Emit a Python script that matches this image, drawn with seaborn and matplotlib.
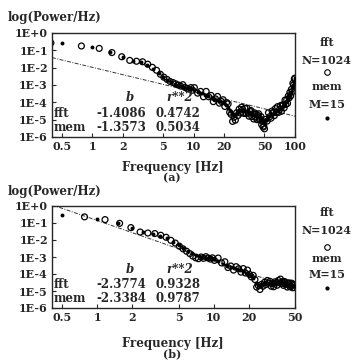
import numpy as np
import matplotlib
matplotlib.use("Agg")
import matplotlib.pyplot as plt
import seaborn as sns
from matplotlib.lines import Line2D
from matplotlib.ticker import FixedLocator, NullLocator

# fft bins (Hz), shared grid for both panels
fft_freq = [0.39, 0.78, 1.17, 1.56, 1.95, 2.34, 2.73, 3.13, 3.52, 3.91,
            4.30, 4.69, 5.08, 5.47, 5.86, 6.25, 6.64, 7.03, 7.42, 7.81,
            8.20, 8.59, 8.98, 9.38, 9.77,
            10.16, 10.94, 11.72, 12.50, 13.28, 14.06, 14.84, 15.63, 16.41, 17.19,
            17.97, 18.75, 19.53, 20.31, 21.09, 21.88, 22.66, 23.44, 24.22, 25.00,
            25.78, 26.56, 27.34, 28.13, 28.91, 29.69, 30.47, 31.25, 32.03, 32.81,
            33.59, 34.38, 35.16, 35.94, 36.72, 37.50, 38.28, 39.06, 39.84, 40.63,
            41.41, 42.19, 42.97, 43.75, 44.53, 45.31, 46.09, 46.88, 47.66, 48.44,
            49.22, 50.00,
            51.56, 53.13, 54.69, 56.25, 57.81, 59.38, 60.94, 62.50, 64.06, 65.63,
            67.19, 68.75, 70.31, 71.88, 73.44, 75.00, 76.56, 78.13, 79.69, 81.25,
            82.81, 84.38, 85.94, 87.50, 89.06, 90.63, 92.19, 93.75, 95.31, 96.88,
            98.44, 100.00]

# mem evaluation frequencies (Hz)
mem_freq = [0.5, 1.0, 1.5, 2.0, 2.5, 3.0, 3.5, 4.0, 4.5, 5.0,
            5.5, 6.0, 6.5, 7.0, 7.5, 8.0, 8.5, 9.0, 9.5, 10.0,
            11, 12, 13, 14, 15, 16, 17, 18, 19, 20,
            21, 22, 23, 24, 25, 26, 27, 28, 29, 30,
            31, 32, 33, 34, 35, 36, 37, 38, 39, 40,
            41, 42, 43, 44, 45, 46, 47, 48, 49, 50,
            52, 54, 56, 58, 60, 62, 64, 66, 68, 70,
            72, 74, 76, 78, 80, 82, 84, 86, 88, 90,
            92, 94, 96, 98, 100]

# log10(Power/Hz), panel (a)
fft_a = [-0.57, -0.75, -0.89, -1.13, -1.37, -1.58, -1.63, -1.66, -1.80, -1.98,
         -2.15, -2.38, -2.55, -2.68, -2.80, -2.86, -2.93, -3.00, -3.06, -2.98,
         -3.14, -3.20, -3.24, -3.15, -3.30,
         -3.15, -3.47, -3.37, -3.68, -3.37, -3.68, -3.60, -3.96, -3.80, -3.66,
         -4.05, -3.95, -3.85, -4.24, -4.02, -4.09, -4.57, -4.70, -5.10, -4.86,
         -5.03, -4.60, -4.76, -4.39, -4.62, -4.28, -4.41, -4.64, -4.34, -4.63,
         -4.34, -4.63, -4.80, -4.52, -4.47, -4.82, -4.67, -4.96, -4.61, -4.84,
         -4.68, -5.00, -4.76, -4.66, -5.00, -4.95, -4.82, -5.28, -5.10, -5.43,
         -5.37, -5.53,
         -4.98, -5.08, -4.60, -4.83, -4.92, -4.50, -4.58, -4.77, -4.36, -4.60,
         -4.25, -4.58, -4.42, -4.19, -4.52, -4.15, -4.16, -4.32, -3.87, -4.12,
         -3.85, -4.06, -3.63, -3.75, -3.42, -3.63, -3.25, -3.40, -2.90, -3.00,
         -2.65, -2.60]

mem_a = [-0.57, -0.81, -1.10, -1.40, -1.60, -1.70, -1.85, -2.05, -2.30, -2.55,
         -2.70, -2.85, -2.95, -3.00, -3.05, -3.10, -3.15, -3.20, -3.25, -3.30,
         -3.38, -3.47, -3.55, -3.65, -3.75, -3.82, -3.87, -3.92, -3.97, -4.02,
         -4.15, -4.32, -4.52, -4.68, -4.75, -4.68, -4.55, -4.45, -4.42, -4.43,
         -4.46, -4.50, -4.53, -4.56, -4.59, -4.62, -4.65, -4.68, -4.71, -4.74,
         -4.77, -4.80, -4.83, -4.86, -4.90, -4.96, -5.05, -5.15, -5.20, -5.18,
         -5.00, -4.85, -4.76, -4.70, -4.65, -4.60, -4.55, -4.50, -4.45, -4.40,
         -4.34, -4.27, -4.20, -4.13, -4.05, -3.96, -3.87, -3.77, -3.66, -3.53,
         -3.38, -3.20, -3.00, -2.80, -2.62]

# log10(Power/Hz), panel (b), up to 50 Hz
fft_b = [-0.23, -0.64, -0.80, -1.02, -1.27, -1.53, -1.59, -1.62, -1.72, -1.84,
         -2.02, -2.18, -2.36, -2.52, -2.66, -2.80, -2.95, -3.05, -3.10, -3.00,
         -3.08, -2.98, -3.06, -3.12, -3.05,
         -3.20, -3.06, -3.35, -3.28, -3.62, -3.53, -3.77, -3.57, -3.69, -3.89,
         -3.68, -3.94, -3.77, -4.02, -4.17, -4.08, -4.33, -4.77, -4.68, -4.91,
         -4.61, -4.72, -4.49, -4.62, -4.38, -4.54, -4.43, -4.72, -4.56, -4.75,
         -4.46, -4.53, -4.66, -4.38, -4.52, -4.30, -4.56, -4.45, -4.67, -4.44,
         -4.61, -4.51, -4.77, -4.57, -4.52, -4.75, -4.71, -4.54, -4.81, -4.62,
         -4.80, -4.65]

mem_b = [-0.51, -0.76, -1.00, -1.30, -1.52, -1.62, -1.75, -1.90, -2.10, -2.30,
         -2.50, -2.65, -2.78, -2.88, -2.95, -3.00, -3.02, -3.05, -3.07, -3.10,
         -3.25, -3.40, -3.52, -3.60, -3.67, -3.72, -3.78, -3.85, -3.92, -4.00,
         -4.10, -4.25, -4.50, -4.65, -4.70, -4.60, -4.50, -4.47, -4.50, -4.55,
         -4.60, -4.62, -4.60, -4.55, -4.50, -4.47, -4.45, -4.47, -4.50, -4.55,
         -4.58, -4.60, -4.62, -4.63, -4.65, -4.67, -4.68, -4.70, -4.70, -4.70]

# fitted slopes and r**2 from the tables, intercepts
fit_b_a = {"fft": -1.4086, "mem": -1.3573}
fit_r2_a = {"fft": 0.4742, "mem": 0.5034}
fit_b_b = {"fft": -2.3774, "mem": -2.3384}
fit_r2_b = {"fft": 0.9328, "mem": 0.9787}
fit_icpt_a = -1.98
fit_icpt_b = -0.85

x_ticks_a = [0.5, 1, 2, 5, 10, 20, 50, 100]
x_ticks_b = [0.5, 1, 2, 5, 10, 20, 50]
y_ticks = [-6, -5, -4, -3, -2, -1, 0]
y_labels = ["1E-6", "1E-5", "1E-4", "1E-3", "1E-2", "1E-1", "1E+0"]

sns.set_style("ticks")
plt.rcParams['font.family'] = ['DejaVu Serif']
plt.rcParams['font.weight'] = 'bold'

W, H = 357, 361
fig = plt.figure(figsize=(W / 100, H / 100), dpi=100)


def box(x0, y0, x1, y1):
    return [x0 / W, 1 - y1 / H, (x1 - x0) / W, (y1 - y0) / H]


def fy(y):
    return 1 - y / H


panels = [
    dict(rect=(52, 33, 295, 137), xlim=(0.40, 100), xt=x_ticks_a,
         fft=fft_a, mem=mem_a, nf=len(fft_a), nm=len(mem_a),
         bvals=fit_b_a, r2=fit_r2_a, icpt=fit_icpt_a, tag="(a)",
         ylab_y=18, xlab_y=167, tag_y=178,
         leg=[43, 60, 72, 86, 105, 118]),
    dict(rect=(52, 206, 295, 308), xlim=(0.41, 50), xt=x_ticks_b,
         fft=fft_b, mem=mem_b, nf=len(fft_b), nm=len(mem_b),
         bvals=fit_b_b, r2=fit_r2_b, icpt=fit_icpt_b, tag="(b)",
         ylab_y=192, xlab_y=343, tag_y=354,
         leg=[212, 230, 247, 258, 275, 288]),
]

for p in panels:
    ax = fig.add_axes(box(*p["rect"]))
    ax.set_xscale("log")

    # fit line of the fft spectrum
    xs = np.array(p["xlim"])
    ys = p["icpt"] + p["bvals"]["fft"] * np.log10(xs)
    sns.lineplot(x=xs, y=ys, ax=ax, color="#333333", linewidth=0.7,
                 linestyle=(0, (4, 1.5, 1, 1.5)), zorder=1)

    sns.scatterplot(x=fft_freq[:p["nf"]], y=p["fft"], ax=ax, marker="o", s=18,
                    facecolor="none", edgecolor="black", linewidth=0.9, zorder=2)
    sns.scatterplot(x=mem_freq[:p["nm"]], y=p["mem"], ax=ax, marker="o", s=8,
                    color="black", linewidth=0, zorder=3)

    ax.set_xlim(*p["xlim"])
    ax.set_ylim(-6, 0)
    ax.xaxis.set_major_locator(FixedLocator(p["xt"]))
    ax.xaxis.set_minor_locator(NullLocator())
    ax.set_xticklabels([f"{t:g}" for t in p["xt"]])
    ax.set_yticks(y_ticks)
    ax.set_yticklabels(y_labels)
    ax.tick_params(direction="in", length=3, width=0.8, labelsize=8, pad=3)
    for s in ax.spines.values():
        s.set_linewidth(1.0)

    # b / r**2 table
    rows_y = (0.23, 0.095) if p["tag"] == "(a)" else (0.235, 0.098)
    ax.text(0.32, 0.375, "b", transform=ax.transAxes, ha="center", va="center",
            fontsize=8.5, style="italic")
    ax.text(0.527, 0.375, "r**2", transform=ax.transAxes, ha="center", va="center",
            fontsize=8.5, style="italic")
    for name, ry in zip(["fft", "mem"], rows_y):
        ax.text(0.008, ry, name, transform=ax.transAxes, ha="left", va="center",
                fontsize=8.5)
        ax.text(0.284, ry, f"{p['bvals'][name]:.4f}", transform=ax.transAxes,
                ha="center", va="center", fontsize=8.5)
        ax.text(0.519, ry, f"{p['r2'][name]:.4f}", transform=ax.transAxes,
                ha="center", va="center", fontsize=8.5)

    fig.text(8 / W, fy(p["ylab_y"]), "log(Power/Hz)", ha="left", va="center",
             fontsize=8.5)
    fig.text(173 / W, fy(p["xlab_y"]), "Frequency [Hz]", ha="center",
             va="center", fontsize=8.5)
    fig.text(172 / W, fy(p["tag_y"]), p["tag"], ha="center", va="center",
             fontsize=8)

    # side legend
    ly = p["leg"]
    lx = 327 / W
    fig.text(lx, fy(ly[0]), "fft", ha="center", va="center", fontsize=8)
    fig.text(lx, fy(ly[1]), "N=1024", ha="center", va="center", fontsize=8)
    fig.add_artist(Line2D([lx], [fy(ly[2])], marker="o", ms=4, mfc="none",
                          mec="black", mew=0.8, transform=fig.transFigure))
    fig.text(lx, fy(ly[3]), "mem", ha="center", va="center", fontsize=8)
    fig.text(lx, fy(ly[4]), "M=15", ha="center", va="center", fontsize=8)
    fig.add_artist(Line2D([lx], [fy(ly[5])], marker="o", ms=2, mfc="black",
                          mec="black", transform=fig.transFigure))

fig.savefig("out.png", dpi=100)
